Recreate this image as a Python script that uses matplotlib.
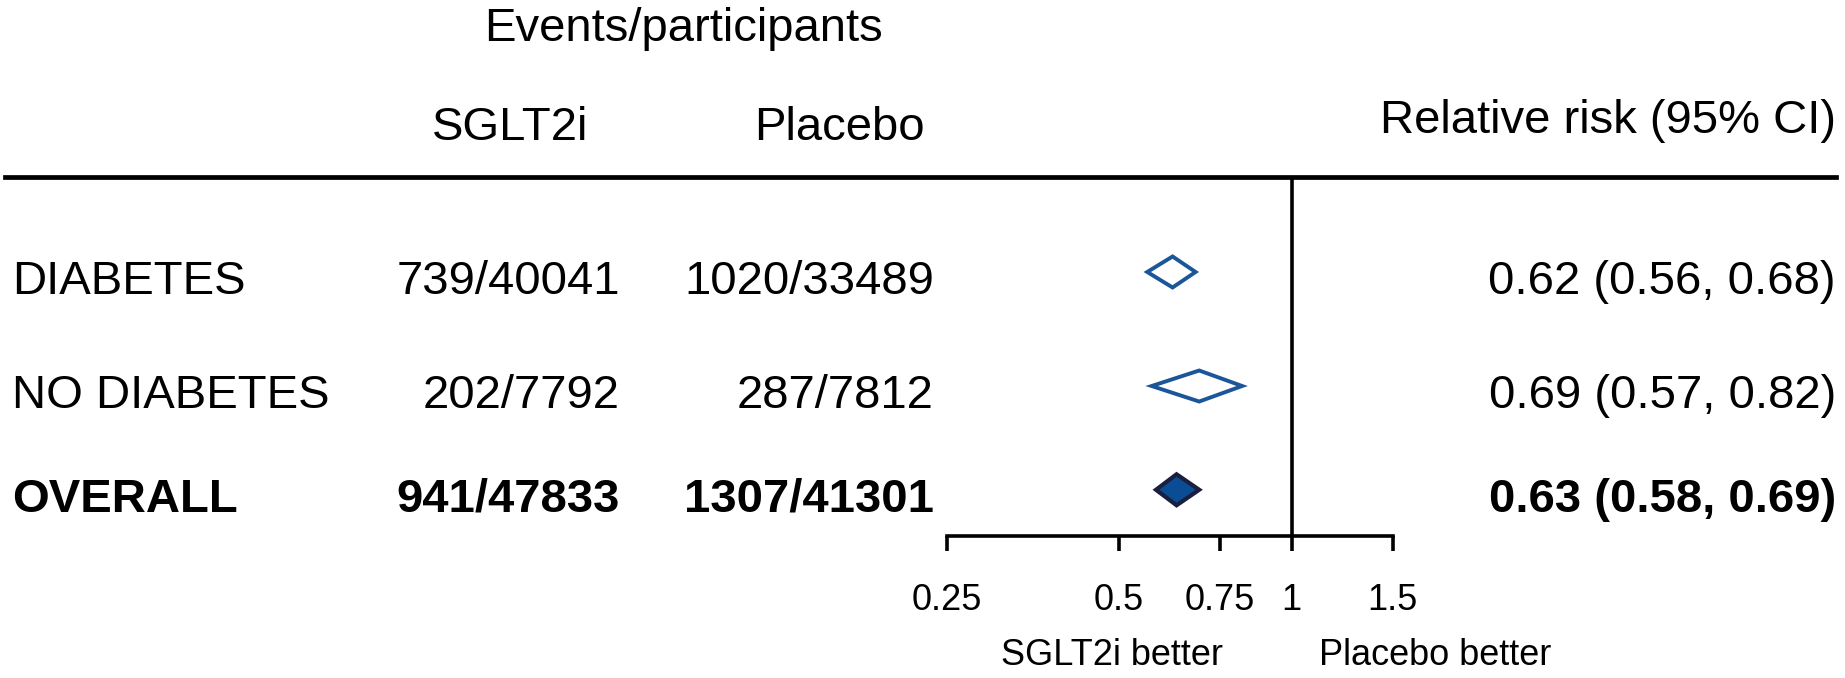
import matplotlib
matplotlib.use("Agg")
import matplotlib.pyplot as plt
import matplotlib.transforms as mtransforms
from matplotlib.patches import Polygon
from matplotlib.lines import Line2D
from matplotlib.ticker import NullLocator

plt.rcParams['font.family'] = ['Liberation Sans', 'DejaVu Sans']

# subgroup results
groups = ['DIABETES', 'NO DIABETES', 'OVERALL']
sglt2_events = [739, 202, 941]
sglt2_total = [40041, 7792, 47833]
placebo_events = [1020, 287, 1307]
placebo_total = [33489, 7812, 41301]
rr = [0.62, 0.69, 0.63]
rr_low = [0.56, 0.57, 0.58]
rr_high = [0.68, 0.82, 0.69]

tick_values = [0.25, 0.5, 0.75, 1, 1.5]
tick_labels = ['0.25', '0.5', '0.75', '1', '1.5']

W, H = 1845, 678
fig = plt.figure(figsize=(W / 100, H / 100), dpi=100)

# forest panel: x is log relative risk, rows run top to bottom
ax = fig.add_axes([946.5 / W, 1 - 535.5 / H, 446 / W, 358.5 / H])
row_y = [0.0, 1.0, 1.91]
ax.set_xscale('log')
ax.set_xlim(0.25, 1.5)
ax.set_ylim(2.311, -0.833)

for s in ['left', 'top', 'right']:
    ax.spines[s].set_visible(False)
ax.spines['bottom'].set_linewidth(2.6)
ax.set_yticks([])
ax.set_xticks(tick_values)
ax.set_xticklabels(tick_labels)
ax.xaxis.set_minor_locator(NullLocator())
ax.tick_params(axis='x', length=10.5, width=2.6, pad=24, labelsize=26)
ax.axvline(1, color='black', lw=2.6)

half_h = 0.136
for i in range(len(groups)):
    y = row_y[i]
    pts = [(rr_low[i], y), (rr[i], y - half_h), (rr_high[i], y), (rr[i], y + half_h)]
    if groups[i] == 'OVERALL':
        d = Polygon(pts, closed=True, facecolor='#0b4d94', edgecolor='#1b1f3f', lw=3.0)
    else:
        d = Polygon(pts, closed=True, facecolor='white', edgecolor='#1a5699', lw=2.8)
    ax.add_patch(d)

ax.text(0.371, -0.361, 'SGLT2i better', transform=ax.transAxes,
        ha='center', va='baseline', fontsize=26)
ax.text(1.095, -0.361, 'Placebo better', transform=ax.transAxes,
        ha='center', va='baseline', fontsize=26)

# table columns: x in figure fraction, y follows the forest rows
tr = mtransforms.blended_transform_factory(fig.transFigure, ax.transData)
base = 0.193
for i in range(len(groups)):
    y = row_y[i] + base
    weight = 'bold' if groups[i] == 'OVERALL' else 'normal'
    kw = dict(transform=tr, va='baseline', fontsize=34, fontweight=weight, clip_on=False)
    ax.text(12 / W, y, groups[i], ha='left', **kw)
    ax.text(620 / W, y, f'{sglt2_events[i]}/{sglt2_total[i]}', ha='right', **kw)
    ax.text(934 / W, y, f'{placebo_events[i]}/{placebo_total[i]}', ha='right', **kw)
    ax.text(1836 / W, y, f'{rr[i]:.2f} ({rr_low[i]:.2f}, {rr_high[i]:.2f})', ha='right', **kw)

# headers
fig.text(683 / W, 1 - 41 / H, 'Events/participants', ha='center', va='baseline', fontsize=34)
fig.text(510 / W, 1 - 140 / H, 'SGLT2i', ha='center', va='baseline', fontsize=34)
fig.text(839 / W, 1 - 140 / H, 'Placebo', ha='center', va='baseline', fontsize=34)
fig.text(1836 / W, 1 - 133 / H, 'Relative risk (95% CI)', ha='right', va='baseline', fontsize=34)
fig.add_artist(Line2D([5 / W, 1836 / W], [1 - 177 / H, 1 - 177 / H],
                      transform=fig.transFigure, color='black', lw=3.4))

fig.savefig('out.png', dpi=100)
